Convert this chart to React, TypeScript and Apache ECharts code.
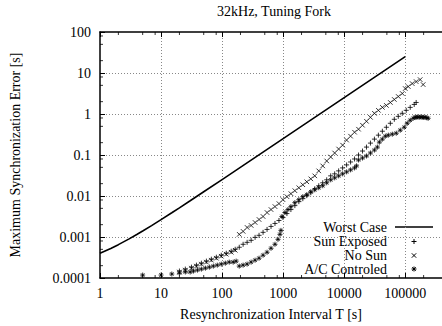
import React, { useEffect, useRef } from 'react';
import * as echarts from 'echarts';

const titleText = '32kHz, Tuning Fork';
const xName = 'Resynchronization Interval T [s]';
const yName = 'Maximum Synchronization Error [s]';
const legendNames = ['Worst Case', 'Sun Exposed', 'No Sun', 'A/C Controled'];

const xTickLabels = ['1', '10', '100', '1000', '10000', '100000'];
const yTickLabels = ['0.0001', '0.001', '0.01', '0.1', '1', '10', '100'];
const minorXTicks = [2, 5, 8, 20, 50, 80, 200, 500, 800, 2000, 5000, 8000, 20000, 50000, 80000, 200000];
const minorYTicks = [0.0002, 0.0005, 0.0008, 0.002, 0.005, 0.008, 0.02, 0.05, 0.08, 0.2, 0.5, 0.8, 2, 5, 8, 20, 50, 80];

const worstCase = [
  [1, 0.0004], [1.5, 0.000525], [2, 0.00065], [3, 0.0009], [4, 0.00115], [5, 0.0014], [7, 0.0019],
  [10, 0.00265], [15, 0.0039], [20, 0.00515], [30, 0.00765], [50, 0.0127], [100, 0.0252],
  [1000, 0.25], [10000, 2.5], [100000, 25],
];

const sunExposed = [
  [20, 0.000148], [25, 0.000165], [31.5, 0.000184], [38, 0.000206], [45.8, 0.00023], [55.3, 0.000258],
  [66.7, 0.000288], [80.5, 0.000322], [97, 0.00036], [117, 0.000402], [141, 0.00045], [164, 0.000502],
  [191, 0.000562], [221, 0.000664], [257, 0.000741], [299, 0.00083], [347, 0.00098], [403, 0.0011],
  [469, 0.0013], [545, 0.00153], [633, 0.00181], [735, 0.00214], [854, 0.00253], [993, 0.00299],
  [1153, 0.00373], [1340, 0.00467], [1556, 0.00583], [1808, 0.00729], [2100, 0.00861], [2441, 0.0102],
  [2836, 0.012], [3296, 0.015], [3830, 0.0178], [4450, 0.021], [5170, 0.0248], [6010, 0.031],
  [6980, 0.0347], [8110, 0.041], [9420, 0.0484], [10950, 0.0573], [12720, 0.0676], [14770, 0.08],
  [17170, 0.1], [19950, 0.125], [23170, 0.156], [26920, 0.195], [31270, 0.244], [36300, 0.305],
  [42200, 0.38], [49070, 0.475], [57000, 0.594], [66200, 0.743], [76900, 0.877], [89400, 1.04],
  [103800, 1.23], [120600, 1.45], [140200, 1.71], [151000, 1.91],
];

const noSun = [
  [20, 0.00014], [25, 0.000156], [31.5, 0.000174], [38, 0.000195], [45.8, 0.000218], [55.3, 0.000244],
  [66.7, 0.000272], [80.5, 0.000304], [97, 0.00034], [117, 0.00038], [141, 0.000425], [164, 0.000475],
  [191, 0.00116], [221, 0.00137], [257, 0.00171], [299, 0.00191], [347, 0.00226], [403, 0.00267],
  [469, 0.00316], [545, 0.00395], [633, 0.00467], [735, 0.00552], [854, 0.00652], [993, 0.00815],
  [1153, 0.00963], [1340, 0.0114], [1556, 0.0135], [1808, 0.0159], [2100, 0.0188], [2441, 0.0222],
  [2836, 0.0262], [3296, 0.031], [3830, 0.041], [4450, 0.0542], [5170, 0.0716], [6010, 0.0894],
  [6980, 0.112], [8110, 0.14], [9420, 0.174], [10950, 0.231], [12720, 0.288], [14770, 0.36],
  [17170, 0.426], [19950, 0.532], [23170, 0.664], [26920, 0.83], [31270, 1.04], [36300, 1.23],
  [42200, 1.45], [49070, 1.62], [57000, 1.91], [66200, 2.26], [76900, 2.67], [89400, 3.16],
  [100000, 4.18], [112000, 4.67], [130000, 5.52], [151000, 6.17], [175400, 6.9], [196400, 5.22],
];

const acControlled = [
  [5, 0.000118], [10, 0.000118], [15, 0.000125], [20, 0.000132], [25, 0.00014], [30, 0.00014],
  [34, 0.000148], [39.5, 0.000156], [45.8, 0.000165], [53.3, 0.000174], [61.9, 0.000184], [71.9, 0.000195],
  [83.5, 0.000206], [97, 0.000218], [113, 0.00023], [131, 0.000244], [152, 0.000244], [170, 0.000258],
  [191, 0.000195], [221, 0.000206], [257, 0.000218], [299, 0.000244], [347, 0.000272], [403, 0.000304],
  [469, 0.00036], [545, 0.000425], [633, 0.000531], [735, 0.000664], [823, 0.000877], [887, 0.00116],
  [921, 0.00145], [955, 0.00316], [1070, 0.00395], [1197, 0.00467], [1340, 0.00552], [1556, 0.00689],
  [1808, 0.00815], [2100, 0.00963], [2441, 0.0108], [2836, 0.0127], [3296, 0.0142], [3830, 0.0159],
  [4450, 0.0178], [5170, 0.021], [6010, 0.0248], [6980, 0.0277], [8110, 0.031], [9420, 0.0347],
  [10950, 0.0387], [12720, 0.0434], [14770, 0.0484], [15920, 0.0542], [17170, 0.0757], [19950, 0.0845],
  [23170, 0.0946], [26920, 0.112], [31270, 0.132], [34990, 0.156], [37730, 0.206], [42200, 0.244],
  [47200, 0.288], [52840, 0.305], [61400, 0.322], [71300, 0.34], [82900, 0.403], [96400, 0.475],
  [107900, 0.594], [120600, 0.703], [134900, 0.785], [145000, 0.83], [151000, 0.83], [160000, 0.85],
  [169000, 0.83], [180000, 0.85], [189200, 0.83], [200000, 0.83], [211700, 0.83], [225000, 0.81],
  [237100, 0.785],
];

const X_MIN = 1;
const X_MAX = 400000;
const Y_MIN = 0.0001;
const Y_MAX = 100;

const FONT = 'Liberation Serif';
const PLUS = 'path://M0,5L10,5M5,0L5,10';
const CROSS = 'path://M0,0L10,10M0,10L10,0';
const STAR = 'path://M0,5L10,5M5,0L5,10M1.5,1.5L8.5,8.5M1.5,8.5L8.5,1.5';

function labelFor(labels: string[], v: number, offset: number) {
  const l = Math.log10(v);
  const i = Math.round(l);
  if (Math.abs(l - i) > 0.01) return '';
  return labels[i + offset] ?? '';
}

export default function App() {
  const ref = useRef<HTMLDivElement>(null);
  useEffect(() => {
    if (!ref.current) return;
    const chart = echarts.init(ref.current, undefined, { renderer: 'svg' });
    const markerStyle = { color: 'transparent', borderColor: '#000', borderWidth: 1 };
    const tickSeries = (data: number[][], size: number[], offset: number[]) => ({
      type: 'scatter',
      data,
      symbol: 'rect',
      symbolSize: size,
      symbolOffset: offset,
      itemStyle: { color: '#000' },
      silent: true,
      clip: false,
      z: 5,
    });
    const legendY = [227, 241.5, 255.5, 269];
    const mx = 414;
    const ls = { stroke: '#000', lineWidth: 1 };
    const seg = (x1: number, y1: number, x2: number, y2: number, w = 1) => ({
      type: 'line',
      shape: { x1, y1, x2, y2 },
      style: { ...ls, lineWidth: w },
      silent: true,
    });
    const legendText = (t: string, y: number) => ({
      type: 'text',
      x: 387,
      y,
      style: { text: t, fill: '#000', font: `14px "${FONT}"`, align: 'right', verticalAlign: 'middle' },
      silent: true,
    });
    chart.setOption({
      animation: false,
      backgroundColor: '#fff',
      textStyle: { fontFamily: FONT },
      grid: { left: 100, top: 32, width: 344, height: 248, containLabel: false },
      xAxis: [
        {
          type: 'log',
          logBase: 10,
          min: X_MIN,
          max: X_MAX,
          position: 'bottom',
          name: xName,
          nameLocation: 'middle',
          nameGap: 29,
          nameTextStyle: { fontFamily: FONT, fontSize: 14, color: '#000' },
          axisLine: { show: true, onZero: false, lineStyle: { color: '#000', width: 1.5 } },
          axisTick: { show: true, inside: true, length: 5, lineStyle: { color: '#000', width: 1 } },
          axisLabel: {
            show: true,
            margin: 8,
            fontFamily: FONT,
            fontSize: 14,
            color: '#000',
            showMaxLabel: false,
            formatter: (v: number) => labelFor(xTickLabels, v, 0),
          },
          splitLine: {
            show: true,
            showMinLine: false,
            showMaxLine: false,
            lineStyle: { color: '#888', width: 1, type: [1, 2] },
          },
        },
        {
          type: 'log',
          logBase: 10,
          min: X_MIN,
          max: X_MAX,
          position: 'top',
          axisLine: { show: true, onZero: false, lineStyle: { color: '#000', width: 1.5 } },
          axisTick: { show: true, inside: true, length: 5, lineStyle: { color: '#000', width: 1 } },
          axisLabel: { show: false },
          splitLine: { show: false },
        },
      ],
      yAxis: {
        type: 'log',
        logBase: 10,
        min: Y_MIN,
        max: Y_MAX,
        name: yName,
        nameLocation: 'middle',
        nameGap: 78,
        nameRotate: 90,
        nameTextStyle: { fontFamily: FONT, fontSize: 14, color: '#000' },
        axisLine: { show: true, onZero: false, lineStyle: { color: '#000', width: 1.5 } },
        axisTick: { show: true, inside: true, length: 5, lineStyle: { color: '#000', width: 1 } },
        axisLabel: {
          show: true,
          margin: 9,
          fontFamily: FONT,
          fontSize: 14,
          color: '#000',
          formatter: (v: number) => labelFor(yTickLabels, v, 4),
        },
        splitLine: {
          show: true,
          showMinLine: false,
          showMaxLine: false,
          lineStyle: { color: '#888', width: 1, type: [1, 2] },
        },
      },
      series: [
        {
          name: legendNames[0],
          type: 'line',
          data: worstCase,
          symbol: 'none',
          lineStyle: { color: '#000', width: 1.6 },
          z: 4,
          silent: true,
        },
        {
          name: legendNames[1],
          type: 'scatter',
          data: sunExposed,
          symbol: PLUS,
          symbolSize: 5,
          itemStyle: markerStyle,
          silent: true,
        },
        {
          name: legendNames[2],
          type: 'scatter',
          data: noSun,
          symbol: CROSS,
          symbolSize: 4.5,
          itemStyle: markerStyle,
          silent: true,
        },
        {
          name: legendNames[3],
          type: 'scatter',
          data: acControlled,
          symbol: STAR,
          symbolSize: 5,
          itemStyle: markerStyle,
          silent: true,
        },
        tickSeries(minorXTicks.map((m) => [m, Y_MIN]), [1, 3], [0, -1.5]),
        tickSeries(minorXTicks.map((m) => [m, Y_MAX]), [1, 3], [0, 1.5]),
        tickSeries(minorYTicks.map((m) => [X_MIN, m]), [3, 1], [1.5, 0]),
      ],
      graphic: [
        {
          type: 'text',
          x: 274,
          y: 11,
          style: { text: titleText, fill: '#000', font: `14px "${FONT}"`, align: 'center', verticalAlign: 'middle' },
          silent: true,
        },
        legendText(legendNames[0], legendY[0]),
        seg(395, legendY[0], 433, legendY[0], 1.6),
        legendText(legendNames[1], legendY[1]),
        seg(mx - 2.5, legendY[1], mx + 2.5, legendY[1]),
        seg(mx, legendY[1] - 2.5, mx, legendY[1] + 2.5),
        legendText(legendNames[2], legendY[2]),
        seg(mx - 2.2, legendY[2] - 2.2, mx + 2.2, legendY[2] + 2.2),
        seg(mx - 2.2, legendY[2] + 2.2, mx + 2.2, legendY[2] - 2.2),
        legendText(legendNames[3], legendY[3]),
        seg(mx - 2.5, legendY[3], mx + 2.5, legendY[3]),
        seg(mx, legendY[3] - 2.5, mx, legendY[3] + 2.5),
        seg(mx - 1.8, legendY[3] - 1.8, mx + 1.8, legendY[3] + 1.8),
        seg(mx - 1.8, legendY[3] + 1.8, mx + 1.8, legendY[3] - 1.8),
      ],
    });
    return () => chart.dispose();
  }, []);
  return (
    <div
      ref={ref}
      style={{ position: 'absolute', left: 0, top: 0, width: 442, height: 326, background: '#fff' }}
    />
  );
}
